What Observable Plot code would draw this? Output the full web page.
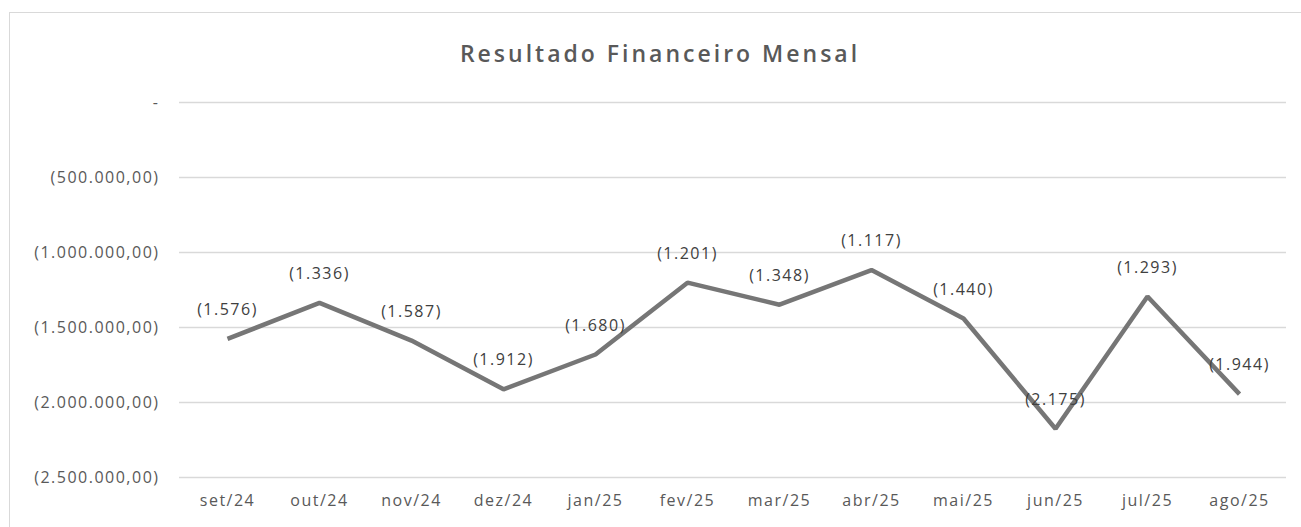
<!DOCTYPE html>
<html>
<head>
<meta charset="utf-8">
<script src="https://cdn.jsdelivr.net/npm/d3@7"></script>
<script src="https://cdn.jsdelivr.net/npm/@observablehq/plot@0.6"></script>
<style>
  html, body { margin: 0; padding: 0; background: #fff; overflow: hidden; }
  #wrap { position: relative; width: 1301px; height: 527px; }
  #frame { position: absolute; left: 9px; top: 12px; width: 1310px; height: 540px; border: 1px solid #d9d9d9; box-sizing: border-box; }
  #title { position: absolute; left: 9px; width: 1302px; top: 37px; text-align: center;
           font-family: "Open Sans", sans-serif; font-size: 23px; font-weight: 600; color: #595959; letter-spacing: 3px; }
  #chart { position: absolute; left: 0; top: 0; }
</style>
</head>
<body>
<div id="wrap">
  <div id="frame"></div>
  <div id="title">Resultado Financeiro Mensal</div>
  <div id="chart"></div>
</div>
<script>
const months = ["set/24","out/24","nov/24","dez/24","jan/25","fev/25","mar/25","abr/25","mai/25","jun/25","jul/25","ago/25"];
const values = [-1576000,-1336000,-1587000,-1912000,-1680000,-1201000,-1348000,-1117000,-1440000,-2175000,-1293000,-1944000];
const yTicks = [0,-500000,-1000000,-1500000,-2000000,-2500000];

const data = months.map((m, i) => ({month: m, value: values[i]}));

const ptBR = new Intl.NumberFormat("pt-BR", {minimumFractionDigits: 2, maximumFractionDigits: 2});
const ptBR0 = new Intl.NumberFormat("pt-BR", {maximumFractionDigits: 0});
const tickFmt = v => v === 0 ? "-" : (v < 0 ? "(" + ptBR.format(-v) + ")" : ptBR.format(v));
const labelFmt = v => v < 0 ? "(" + ptBR0.format(Math.round(-v / 1000)) + ")" : ptBR0.format(Math.round(v / 1000));

const font = '"Open Sans", sans-serif';

const chart = Plot.plot({
  width: 1301,
  height: 527,
  marginLeft: 179,
  marginRight: 15,
  marginTop: 102,
  marginBottom: 50,
  style: {fontFamily: font, fontSize: "16px", color: "#595959", background: "transparent", letterSpacing: "1.5px"},
  x: {type: "point", domain: months, padding: 0.5, label: null},
  y: {domain: [-2500000, 0], ticks: yTicks, tickFormat: tickFmt, label: null},
  marks: [
    Plot.gridY(yTicks, {stroke: "#d9d9d9", strokeOpacity: 1, strokeWidth: 1.3}),
    Plot.axisX({tickSize: 0, tickPadding: 17, fontSize: 16, fill: "#595959"}),
    Plot.axisY(yTicks, {tickSize: 0, tickPadding: 20, fontSize: 16, fill: "#595959", tickFormat: tickFmt}),
    Plot.line(data, {x: "month", y: "value", stroke: "#767676", strokeWidth: 4.5, strokeLinejoin: "miter", strokeLinecap: "butt"}),
    Plot.text(data, {x: "month", y: "value", text: d => labelFmt(d.value), dy: -29, fill: "#404040", fontSize: 16})
  ]
});
document.getElementById("chart").appendChild(chart);
</script>
</body>
</html>
